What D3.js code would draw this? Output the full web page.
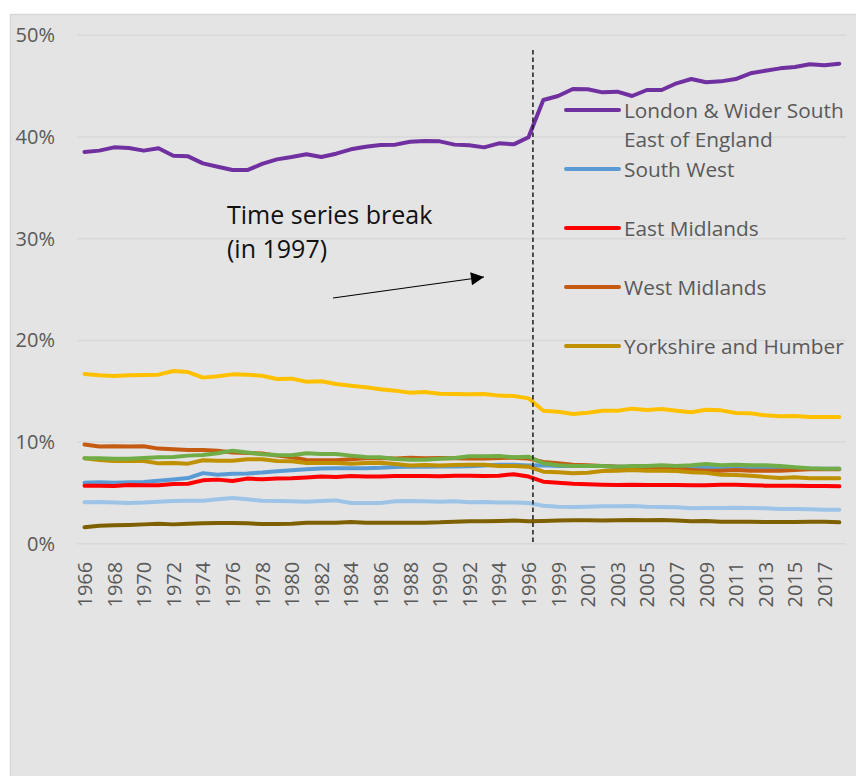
<!DOCTYPE html>
<html>
<head>
<meta charset="utf-8">
<script src="https://cdn.jsdelivr.net/npm/d3@7"></script>
<style>
html,body{margin:0;padding:0;background:#fff;}
svg{display:block;}
text{font-family:"Open Sans",sans-serif;}
</style>
</head>
<body>
<svg id="chart" width="856" height="776"></svg>
<script>
// ---- Data ----
const years = ["1966","1967","1968","1969","1970","1971","1972","1973","1974","1975","1976","1977","1978","1979","1980","1981","1982","1983","1984","1985","1986","1987","1988","1989","1990","1991","1992","1993","1994","1995","1996","1997",
"1999","2000","2001","2002","2003","2004","2005","2006","2007","2008","2009","2010","2011","2012","2013","2014","2015","2016","2017","2018"];

const london = [38.53,38.66,38.98,38.92,38.66,38.89,38.16,38.10,37.41,37.08,36.75,36.75,37.35,37.80,38.03,38.30,38.03,38.36,38.79,39.05,39.21,39.25,39.54,39.61,39.57,39.25,39.18,38.98,39.38,39.28,39.97,
43.64,44.03,44.72,44.69,44.39,44.46,44.03,44.62,44.62,45.28,45.70,45.38,45.47,45.70,46.26,46.52,46.75,46.88,47.15,47.05,47.21];
const southWest = [6.01,6.04,6.01,6.04,6.07,6.20,6.33,6.46,6.95,6.79,6.88,6.92,7.01,7.14,7.24,7.34,7.41,7.44,7.44,7.44,7.47,7.54,7.57,7.57,7.60,7.60,7.63,7.70,7.77,7.77,7.70,
7.72,7.65,7.65,7.65,7.65,7.58,7.58,7.52,7.52,7.52,7.45,7.45,7.52,7.52,7.52,7.45,7.45,7.39,7.39,7.39,7.39];
const eastMidlands = [5.72,5.72,5.68,5.78,5.75,5.75,5.88,5.91,6.24,6.31,6.18,6.41,6.34,6.41,6.44,6.51,6.61,6.57,6.67,6.61,6.61,6.67,6.67,6.67,6.64,6.70,6.70,6.67,6.70,6.84,6.61,
6.11,6.01,5.91,5.85,5.81,5.78,5.81,5.78,5.78,5.78,5.75,5.75,5.81,5.81,5.75,5.72,5.72,5.72,5.68,5.68,5.65];
const westMidlands = [9.76,9.57,9.60,9.57,9.60,9.36,9.29,9.23,9.23,9.16,8.97,8.93,8.87,8.67,8.51,8.25,8.21,8.21,8.31,8.41,8.44,8.38,8.47,8.41,8.44,8.41,8.38,8.38,8.44,8.47,8.38,
8.04,7.91,7.78,7.72,7.65,7.58,7.52,7.45,7.45,7.39,7.26,7.19,7.19,7.26,7.19,7.19,7.19,7.26,7.32,7.32,7.32];
const yorkshire = [8.40,8.24,8.14,8.14,8.14,7.91,7.94,7.88,8.21,8.17,8.17,8.31,8.31,8.14,8.11,7.94,7.94,7.94,7.88,7.94,7.98,7.84,7.71,7.75,7.71,7.75,7.78,7.78,7.65,7.65,7.58,
7.09,7.03,6.93,6.99,7.16,7.19,7.26,7.19,7.19,7.16,7.03,6.99,6.80,6.76,6.70,6.57,6.47,6.54,6.44,6.44,6.44];
const north = [16.70,16.57,16.50,16.57,16.60,16.63,16.99,16.89,16.34,16.47,16.66,16.63,16.53,16.20,16.24,15.94,15.98,15.71,15.55,15.39,15.19,15.06,14.86,14.93,14.76,14.73,14.70,14.73,14.57,14.53,14.30,
13.09,12.99,12.76,12.89,13.09,13.09,13.29,13.16,13.25,13.09,12.93,13.19,13.12,12.86,12.83,12.63,12.53,12.57,12.47,12.47,12.47];
const scotland = [8.40,8.40,8.37,8.37,8.44,8.50,8.54,8.67,8.73,8.90,9.16,8.97,8.80,8.73,8.70,8.90,8.83,8.83,8.67,8.54,8.50,8.34,8.27,8.27,8.37,8.44,8.60,8.60,8.63,8.50,8.57,
7.91,7.72,7.65,7.65,7.65,7.58,7.65,7.65,7.72,7.65,7.72,7.85,7.72,7.78,7.72,7.72,7.65,7.52,7.42,7.39,7.39];
const wales = [4.08,4.11,4.05,4.01,4.05,4.14,4.21,4.24,4.24,4.37,4.50,4.37,4.24,4.21,4.18,4.14,4.21,4.27,4.01,4.01,4.01,4.18,4.21,4.18,4.14,4.18,4.08,4.11,4.05,4.05,4.01,
3.75,3.65,3.62,3.65,3.69,3.69,3.72,3.65,3.62,3.59,3.49,3.52,3.52,3.55,3.52,3.49,3.42,3.42,3.39,3.36,3.36];
const northernIreland = [1.62,1.78,1.82,1.85,1.91,1.98,1.91,1.98,2.01,2.05,2.05,2.01,1.95,1.95,1.98,2.08,2.08,2.08,2.14,2.08,2.08,2.08,2.08,2.08,2.11,2.18,2.21,2.21,2.24,2.28,2.21,
2.24,2.28,2.31,2.31,2.28,2.31,2.34,2.31,2.34,2.28,2.21,2.24,2.18,2.18,2.18,2.14,2.14,2.14,2.18,2.18,2.11];

const seriesNames = ["London & Wider South East of England","South West","East Midlands","West Midlands","Yorkshire and Humber","North of England","Scotland","Wales","Northern Ireland"];
const seriesValues = [london,southWest,eastMidlands,westMidlands,yorkshire,north,scotland,wales,northernIreland];
const seriesColors = ["#7030a0","#5b9bd5","#ff0000","#c55a11","#bf9000","#ffc000","#70ad47","#9dc3e6","#7f6000"];
const legendCount = 5;
const yTicks = [0,10,20,30,40,50];
const breakAfter = "1996";
const annotationLines = ["Time series break","(in 1997)"];

// ---- Drawing ----
const svg = d3.select("#chart");
svg.append("rect").attr("x",10.5).attr("y",14.5).attr("width",850).attr("height",770)
  .attr("fill","#e4e4e4").attr("stroke","#d6d6d6").attr("stroke-width",1.5);

const x = d3.scalePoint().domain(years).range([84.5, 839.3]);
const y = d3.scaleLinear().domain([0,50]).range([543.8, 35.3]);
const gridLeft = 77, gridRight = 846;

// gridlines
svg.append("g").selectAll("line").data(yTicks).join("line")
  .attr("x1",gridLeft).attr("x2",gridRight)
  .attr("y1",d=>y(d)).attr("y2",d=>y(d))
  .attr("stroke","#d8d8d8").attr("stroke-width",1.5);

// y axis
const yAxis = d3.axisLeft(y).tickValues(yTicks).tickFormat(d=>d+"%").tickSize(0).tickPadding(0);
const gy = svg.append("g").attr("transform","translate(55,0)").call(yAxis);
gy.select(".domain").remove();
gy.selectAll("text").attr("font-family","'Open Sans',sans-serif").attr("font-size",20).attr("fill","#595959");

// x axis
const xAxis = d3.axisBottom(x).tickValues(years.filter((d,i)=>i%2===0)).tickSize(0).tickPadding(0);
const gx = svg.append("g").attr("transform","translate(0,543.8)").call(xAxis);
gx.select(".domain").remove();
gx.selectAll("text")
  .attr("font-family","'Open Sans',sans-serif").attr("font-size",20).attr("fill","#595959")
  .attr("transform","rotate(-90)")
  .attr("text-anchor","end")
  .attr("x",-18).attr("y",0).attr("dy","0.35em");

// lines
const line = d3.line().x((d,i)=>x(years[i])).y(d=>y(d));
svg.append("g").selectAll("path").data(seriesValues).join("path")
  .attr("d",d=>line(d))
  .attr("fill","none")
  .attr("stroke",(d,i)=>seriesColors[i])
  .attr("stroke-width",4)
  .attr("stroke-linejoin","round")
  .attr("stroke-linecap","round");

// break line
const step = x.step();
const bx = x(breakAfter) + step*0.3;
svg.append("line").attr("x1",bx).attr("x2",bx).attr("y1",50).attr("y2",y(0))
  .attr("stroke","#1a1a1a").attr("stroke-width",1.5).attr("stroke-dasharray","4.5,3");

// annotation
const ann = svg.append("text").attr("font-family","'Open Sans',sans-serif").attr("font-size",25).attr("fill","#111");
annotationLines.forEach((t,i)=>ann.append("tspan").attr("x",227).attr("y",224+i*34).text(t));

svg.append("defs").append("marker").attr("id","arr").attr("viewBox","0 0 10 10")
  .attr("refX",10).attr("refY",5).attr("markerWidth",16).attr("markerHeight",13)
  .attr("markerUnits","userSpaceOnUse").attr("orient","auto")
  .append("path").attr("d","M0,0 L10,5 L0,10 Z").attr("fill","#000");
svg.append("line").attr("x1",333).attr("y1",298).attr("x2",484).attr("y2",277)
  .attr("stroke","#000").attr("stroke-width",1.2).attr("marker-end","url(#arr)");

// legend
const legendY = [110,169,228,287,346];
const lg = svg.append("g");
for(let i=0;i<legendCount;i++){
  const g = lg.append("g");
  g.append("line").attr("x1",566).attr("x2",619).attr("y1",legendY[i]).attr("y2",legendY[i])
    .attr("stroke",seriesColors[i]).attr("stroke-width",4).attr("stroke-linecap","round");
  const t = g.append("text").attr("font-family","'Open Sans',sans-serif").attr("font-size",20.8).attr("fill","#595959");
  if(i===0){
    t.append("tspan").attr("x",624).attr("y",legendY[i]+8).text("London & Wider South");
    t.append("tspan").attr("x",624).attr("y",legendY[i]+37).text("East of England");
  } else {
    t.append("tspan").attr("x",624).attr("y",legendY[i]+8).text(seriesNames[i]);
  }
}
</script>
</body>
</html>
